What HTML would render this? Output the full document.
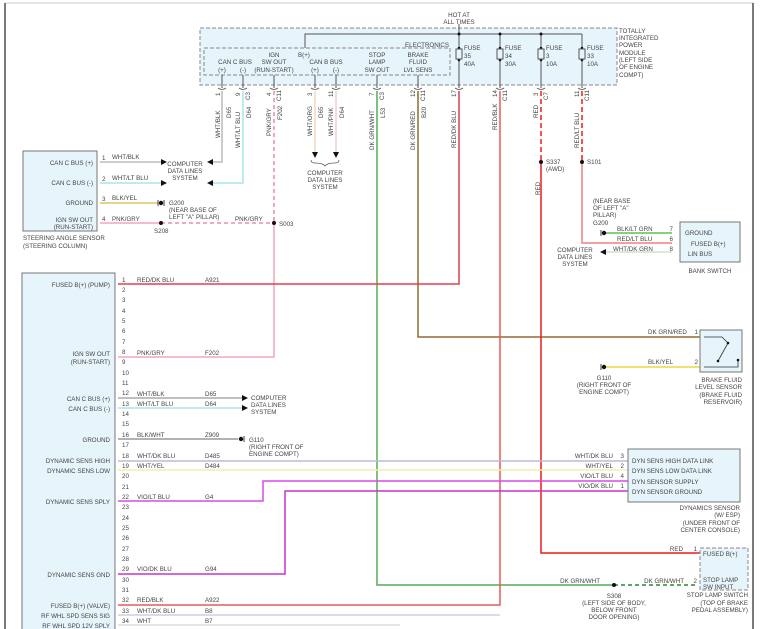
<!DOCTYPE html>
<html><head><meta charset="utf-8"><style>
html,body{margin:0;padding:0;background:#fff;}
svg{display:block;font-family:"Liberation Sans",sans-serif;}
text{font-size:6.2px;fill:#444;}
</style></head><body>
<svg width="764" height="629" viewBox="0 0 764 629" xmlns="http://www.w3.org/2000/svg">
<rect x="0" y="0" width="764" height="629" fill="#fff"/>
<line x1="5" y1="3" x2="753" y2="3" stroke="#ccc" stroke-width="1"/>
<line x1="5" y1="3" x2="5" y2="629" stroke="#222" stroke-width="1.2"/>
<line x1="753" y1="3" x2="753" y2="629" stroke="#222" stroke-width="1.2"/>

<rect x="200" y="28" width="417" height="57" fill="#e6f4fb" stroke="#888" stroke-dasharray="4,2"/>
<rect x="204" y="48" width="246" height="27" fill="none" stroke="#888" stroke-dasharray="4,2"/>
<text x="459" y="17" text-anchor="middle">HOT AT</text>
<text x="459" y="24" text-anchor="middle">ALL TIMES</text>
<g stroke="#555" fill="none" stroke-width="1">
<polyline points="305,48 305,34 582,34"/>
<line x1="459" y1="24" x2="459" y2="88"/>
<line x1="500" y1="34" x2="500" y2="88"/>
<line x1="541" y1="34" x2="541" y2="88"/>
<line x1="582" y1="34" x2="582" y2="88"/>
</g>
<g fill="#111"><circle cx="459" cy="34" r="1.5"/><circle cx="500" cy="34" r="1.5"/><circle cx="541" cy="34" r="1.5"/>
<circle cx="459" cy="48" r="1.3"/><circle cx="459" cy="60" r="1.3"/><circle cx="500" cy="48" r="1.3"/><circle cx="500" cy="60" r="1.3"/><circle cx="541" cy="48" r="1.3"/><circle cx="541" cy="60" r="1.3"/><circle cx="582" cy="48" r="1.3"/><circle cx="582" cy="60" r="1.3"/></g>
<g fill="#e6f4fb" stroke="#555"><rect x="456" y="49" width="6" height="10"/><rect x="497" y="49" width="6" height="10"/><rect x="538" y="49" width="6" height="10"/><rect x="579" y="49" width="6" height="10"/></g>
<text x="464" y="50">FUSE</text><text x="464" y="58">35</text><text x="464" y="66">40A</text>
<text x="505" y="50">FUSE</text><text x="505" y="58">34</text><text x="505" y="66">30A</text>
<text x="546" y="50">FUSE</text><text x="546" y="58">3</text><text x="546" y="66">10A</text>
<text x="587" y="50">FUSE</text><text x="587" y="58">33</text><text x="587" y="66">10A</text>
<text x="619" y="33">TOTALLY</text><text x="619" y="40">INTEGRATED</text><text x="619" y="47">POWER</text><text x="619" y="55">MODULE</text><text x="619" y="62">(LEFT SIDE</text><text x="619" y="69">OF ENGINE</text><text x="619" y="77">COMPT)</text>
<text x="405" y="47">ELECTRONICS</text>
<text x="298" y="57">B(+)</text>
<text x="235" y="64" text-anchor="middle">CAN C BUS</text>
<text x="222" y="72" text-anchor="middle">(+)</text><text x="243" y="72" text-anchor="middle">(-)</text>
<text x="274" y="57" text-anchor="middle">IGN</text><text x="274" y="64" text-anchor="middle">SW OUT</text><text x="274" y="72" text-anchor="middle">(RUN-START)</text>
<text x="326" y="64" text-anchor="middle">CAN B BUS</text>
<text x="315" y="72" text-anchor="middle">(+)</text><text x="336" y="72" text-anchor="middle">(-)</text>
<text x="377" y="57" text-anchor="middle">STOP</text><text x="377" y="64" text-anchor="middle">LAMP</text><text x="377" y="72" text-anchor="middle">SW OUT</text>
<text x="418" y="57" text-anchor="middle">BRAKE</text><text x="418" y="64" text-anchor="middle">FLUID</text><text x="418" y="72" text-anchor="middle">LVL SENS</text>
<g stroke="#555" fill="none"><line x1="222" y1="75" x2="222" y2="88"/><line x1="243" y1="75" x2="243" y2="88"/><line x1="274" y1="75" x2="274" y2="88"/><line x1="315" y1="75" x2="315" y2="88"/><line x1="336" y1="75" x2="336" y2="88"/><line x1="377" y1="75" x2="377" y2="88"/><line x1="418" y1="75" x2="418" y2="88"/></g>
<g fill="none" stroke="#555" stroke-width="0.8">
<path d="M218,88 q4,3 8,0"/><path d="M239,88 q4,3 8,0"/><path d="M270,88 q4,3 8,0"/><path d="M311,88 q4,3 8,0"/><path d="M332,88 q4,3 8,0"/><path d="M373,88 q4,3 8,0"/><path d="M414,88 q4,3 8,0"/><path d="M455,88 q4,3 8,0"/><path d="M496,88 q4,3 8,0"/><path d="M537,88 q4,3 8,0"/><path d="M578,88 q4,3 8,0"/>
</g>
<g font-size="5.5">
<text transform="translate(220,96) rotate(-90)">1</text><text transform="translate(240,96) rotate(-90)">9</text><text transform="translate(250,100) rotate(-90)">C3</text>
<text transform="translate(271,96) rotate(-90)">4</text><text transform="translate(281,101) rotate(-90)">C11</text>
<text transform="translate(312,96) rotate(-90)">3</text><text transform="translate(333,97) rotate(-90)">11</text>
<text transform="translate(374,96) rotate(-90)">7</text><text transform="translate(384,100) rotate(-90)">C3</text>
<text transform="translate(415,97) rotate(-90)">12</text><text transform="translate(425,101) rotate(-90)">C11</text>
<text transform="translate(456,97) rotate(-90)">17</text><text transform="translate(497,97) rotate(-90)">14</text><text transform="translate(507,101) rotate(-90)">C11</text>
<text transform="translate(538,96) rotate(-90)">3</text><text transform="translate(548,100) rotate(-90)">C7</text>
<text transform="translate(579,97) rotate(-90)">11</text><text transform="translate(589,101) rotate(-90)">C11</text>
</g>
<g>
<text transform="translate(220,138) rotate(-90)">WHT/BLK</text><text transform="translate(231,118) rotate(-90)">D65</text>
<text transform="translate(240,148) rotate(-90)">WHT/LT BLU</text><text transform="translate(251,118) rotate(-90)">D64</text>
<text transform="translate(271,136) rotate(-90)">PNK/GRY</text><text transform="translate(282,120) rotate(-90)">F202</text>
<text transform="translate(312,136) rotate(-90)">WHT/ORG</text><text transform="translate(323,118) rotate(-90)">D65</text>
<text transform="translate(333,136) rotate(-90)">WHT/PNK</text><text transform="translate(344,118) rotate(-90)">D64</text>
<text transform="translate(374,150) rotate(-90)">DK GRN/WHT</text><text transform="translate(385,118) rotate(-90)">L53</text>
<text transform="translate(415,150) rotate(-90)">DK GRN/RED</text><text transform="translate(426,118) rotate(-90)">B20</text>
<text transform="translate(456,148) rotate(-90)">RED/DK BLU</text>
<text transform="translate(497,130) rotate(-90)">RED/BLK</text>
<text transform="translate(538,118) rotate(-90)">RED</text>
<text transform="translate(579,148) rotate(-90)">RED/LT BLU</text>
<text transform="translate(540,195) rotate(-90)">RED</text>
</g>

<g fill="none" stroke-width="1.5">
<polyline points="222,91 222,162 209,162" stroke="#bbb"/>
<polyline points="243,91 243,183 209,183" stroke="#a8e4ec"/>
<line x1="274" y1="91" x2="274" y2="223" stroke="#f08aa8" stroke-dasharray="4,3"/>
<polyline points="274,223 274,357 118,357" stroke="#f2a6bc"/>
<line x1="315" y1="91" x2="315" y2="152" stroke="#f0d8c0"/>
<line x1="336" y1="91" x2="336" y2="152" stroke="#f5c8d8"/>
<polyline points="377,91 377,585 614,585" stroke="#5aaa50"/>
<line x1="614" y1="585" x2="697" y2="585" stroke="#2a8a2a" stroke-dasharray="4,3"/>
<polyline points="418,91 418,337 700,337" stroke="#c05030"/>
<polyline points="418,91 418,337 700,337" stroke="#3a9a3a" stroke-width="0.6"/>
<polyline points="459,91 459,284 118,284" stroke="#e04050"/>
<polyline points="500,91 500,605 118,605" stroke="#e85a5a"/>
<line x1="541" y1="91" x2="541" y2="162" stroke="#ee1c1c" stroke-dasharray="5,3"/>
<polyline points="541,162 541,553 700,553" stroke="#ee1c1c"/>
<line x1="582" y1="91" x2="582" y2="162" stroke="#ee1c1c" stroke-dasharray="5,3"/>
<polyline points="582,162 582,243 672,243" stroke="#f08080"/>
<line x1="603" y1="233" x2="672" y2="233" stroke="#66bb55"/>
<line x1="606" y1="252" x2="672" y2="252" stroke="#cfe3c8"/>
<line x1="605" y1="367" x2="700" y2="367" stroke="#e8d84a"/>
<line x1="100" y1="162" x2="162" y2="162" stroke="#bbb"/>
<line x1="100" y1="183" x2="162" y2="183" stroke="#a8e4ec"/>
<line x1="100" y1="203" x2="158" y2="203" stroke="#d8c860"/>
<line x1="100" y1="223" x2="161" y2="223" stroke="#f2a6bc"/>
<line x1="161" y1="223" x2="274" y2="223" stroke="#f08aa8" stroke-dasharray="4,3"/>
<line x1="118" y1="398" x2="242" y2="398" stroke="#aaa"/>
<line x1="118" y1="408" x2="242" y2="408" stroke="#a8e4ec"/>
<line x1="118" y1="439" x2="238" y2="439" stroke="#999"/>
<line x1="118" y1="461" x2="628" y2="461" stroke="#b8bcd8"/>
<line x1="118" y1="470" x2="628" y2="470" stroke="#f2eeb0"/>
<polyline points="118,501 263,501 263,481 628,481" stroke="#d848e8"/>
<polyline points="118,574 285,574 285,491 628,491" stroke="#c830d0"/>
<line x1="118" y1="615" x2="500" y2="615" stroke="#c8d0e0"/>
<line x1="118" y1="625" x2="400" y2="625" stroke="#ddd"/>
</g>
<g fill="#111">
<circle cx="274" cy="223" r="2"/><circle cx="161" cy="223" r="2"/><circle cx="541" cy="162" r="2"/><circle cx="582" cy="162" r="2"/><circle cx="614" cy="585" r="2"/>
</g>
<text x="279" y="226">S003</text><text x="154" y="233">S208</text>
<text x="546" y="164">S337</text><text x="546" y="171">(AWD)</text><text x="587" y="164">S101</text>
<text x="614" y="598" text-anchor="middle">S308</text><text x="614" y="605" text-anchor="middle">(LEFT SIDE OF BODY,</text><text x="614" y="612" text-anchor="middle">BELOW FRONT</text><text x="614" y="619" text-anchor="middle">DOOR OPENING)</text>
<g fill="#111">
<polygon points="161,159 167,162 161,165"/><polygon points="161,180 167,183 161,186"/>
<polygon points="213,159 207,162 213,165"/><polygon points="213,180 207,183 213,186"/>
<polygon points="312,152 318,152 315,158"/><polygon points="333,152 339,152 336,158"/>
<polygon points="242,395 248,398 242,401"/><polygon points="242,405 248,408 242,411"/>
<polygon points="606,249 600,252 606,255"/>
</g>
<path d="M311,160 q0,3 4,3 q8,0 10,3 q2,-3 10,-3 q4,0 4,-3" fill="none" stroke="#555" stroke-width="0.7"/>
<text x="325" y="175" text-anchor="middle">COMPUTER</text><text x="325" y="182" text-anchor="middle">DATA LINES</text><text x="325" y="189" text-anchor="middle">SYSTEM</text>
<text x="185" y="166" text-anchor="middle">COMPUTER</text><text x="185" y="173" text-anchor="middle">DATA LINES</text><text x="185" y="180" text-anchor="middle">SYSTEM</text>
<text x="251" y="400">COMPUTER</text><text x="251" y="407">DATA LINES</text><text x="251" y="414">SYSTEM</text>
<text x="575" y="252" text-anchor="middle">COMPUTER</text><text x="575" y="259" text-anchor="middle">DATA LINES</text><text x="575" y="266" text-anchor="middle">SYSTEM</text>
<g fill="#111" stroke="#111" stroke-width="0.8">
<circle cx="161" cy="203" r="1.8"/><line x1="158" y1="200" x2="158" y2="206"/><line x1="164" y1="200" x2="164" y2="206"/>
<circle cx="241" cy="439" r="1.8"/><line x1="244" y1="436" x2="244" y2="442"/>
<circle cx="604" cy="233" r="1.8"/><line x1="601" y1="230" x2="601" y2="236"/>
<circle cx="604" cy="367" r="1.8"/><line x1="601" y1="364" x2="601" y2="370"/>
</g>
<text x="169" y="205">G200</text><text x="169" y="212">(NEAR BASE OF</text><text x="169" y="219">LEFT "A" PILLAR)</text>
<text x="249" y="442">G110</text><text x="249" y="449">(RIGHT FRONT OF</text><text x="249" y="456">ENGINE COMPT)</text>
<text x="593" y="203">(NEAR BASE</text><text x="593" y="210">OF LEFT "A"</text><text x="593" y="217">PILLAR)</text><text x="593" y="225">G200</text>
<text x="604" y="380" text-anchor="middle">G110</text><text x="604" y="387" text-anchor="middle">(RIGHT FRONT OF</text><text x="604" y="394" text-anchor="middle">ENGINE COMPT)</text>

<rect x="23" y="151" width="74" height="80" fill="#e6f4fb" stroke="#777"/>
<text x="93" y="165" text-anchor="end">CAN C BUS (+)</text><text x="93" y="185" text-anchor="end">CAN C BUS (-)</text><text x="93" y="205" text-anchor="end">GROUND</text><text x="93" y="222" text-anchor="end">IGN SW OUT</text><text x="93" y="229" text-anchor="end">(RUN-START)</text>
<text x="23" y="240">STEERING ANGLE SENSOR</text><text x="23" y="248">(STEERING COLUMN)</text>
<text x="102" y="160">1</text><text x="102" y="181">2</text><text x="102" y="201">3</text><text x="102" y="221">4</text>
<text x="112" y="159">WHT/BLK</text><text x="112" y="180">WHT/LT BLU</text><text x="112" y="200">BLK/YEL</text><text x="112" y="221">PNK/GRY</text><text x="235" y="221">PNK/GRY</text>

<rect x="22" y="273" width="93" height="360" fill="#e6f4fb" stroke="#777"/>
<g text-anchor="end">
<text x="110" y="287">FUSED B(+) (PUMP)</text>
<text x="110" y="356">IGN SW OUT</text><text x="110" y="364">(RUN-START)</text>
<text x="110" y="401">CAN C BUS (+)</text><text x="110" y="411">CAN C BUS (-)</text>
<text x="110" y="442">GROUND</text>
<text x="110" y="463">DYNAMIC SENS HIGH</text><text x="110" y="473">DYNAMIC SENS LOW</text>
<text x="110" y="504">DYNAMIC SENS SPLY</text>
<text x="110" y="577">DYNAMIC SENS GND</text>
<text x="110" y="608">FUSED B(+) (VALVE)</text><text x="110" y="618">RF WHL SPD SENS SIG</text><text x="110" y="628">RF WHL SPD 12V SPLY</text>
</g>
<g font-size="5.8">
<text x="122" y="282">1</text><text x="122" y="292">2</text><text x="122" y="302">3</text><text x="122" y="313">4</text><text x="122" y="323">5</text><text x="122" y="333">6</text><text x="122" y="344">7</text><text x="122" y="354">8</text><text x="122" y="364">9</text><text x="122" y="375">10</text><text x="122" y="385">11</text><text x="122" y="395">12</text><text x="122" y="406">13</text><text x="122" y="416">14</text><text x="122" y="426">15</text><text x="122" y="437">16</text><text x="122" y="447">17</text><text x="122" y="458">18</text><text x="122" y="468">19</text><text x="122" y="478">20</text><text x="122" y="489">21</text><text x="122" y="499">22</text><text x="122" y="509">23</text><text x="122" y="520">24</text><text x="122" y="530">25</text><text x="122" y="540">26</text><text x="122" y="551">27</text><text x="122" y="561">28</text><text x="122" y="571">29</text><text x="122" y="582">30</text><text x="122" y="592">31</text><text x="122" y="602">32</text><text x="122" y="613">33</text><text x="122" y="623">34</text>
</g>
<g>
<text x="137" y="282">RED/DK BLU</text><text x="205" y="282">A921</text>
<text x="137" y="355">PNK/GRY</text><text x="205" y="355">F202</text>
<text x="137" y="396">WHT/BLK</text><text x="205" y="396">D65</text>
<text x="137" y="406">WHT/LT BLU</text><text x="205" y="406">D64</text>
<text x="137" y="437">BLK/WHT</text><text x="205" y="437">Z909</text>
<text x="137" y="458">WHT/DK BLU</text><text x="205" y="458">D485</text>
<text x="137" y="468">WHT/YEL</text><text x="205" y="468">D484</text>
<text x="137" y="499">VIO/LT BLU</text><text x="205" y="499">G4</text>
<text x="137" y="571">VIO/DK BLU</text><text x="205" y="571">G94</text>
<text x="137" y="602">RED/BLK</text><text x="205" y="602">A922</text>
<text x="137" y="613">WHT/DK BLU</text><text x="205" y="613">B8</text>
<text x="137" y="623">WHT</text><text x="205" y="623">B7</text>
</g>

<rect x="680" y="222" width="60" height="40" fill="#e6f4fb" stroke="#777"/>
<text x="685" y="235">GROUND</text><text x="691" y="246">FUSED B(+)</text><text x="688" y="256">LIN BUS</text>
<text x="710" y="273" text-anchor="middle">BANK SWITCH</text>
<text x="673" y="231" text-anchor="end">7</text><text x="673" y="241" text-anchor="end">6</text><text x="673" y="251" text-anchor="end">8</text>
<text x="617" y="231">BLK/LT GRN</text><text x="617" y="241">RED/LT BLU</text><text x="613" y="251">WHT/DK GRN</text>

<rect x="700" y="330" width="42" height="42" fill="#e6f4fb" stroke="#777"/>
<g stroke="#333" fill="none" stroke-width="0.8"><polyline points="704,337 722,337 728,343"/><line x1="728" y1="343" x2="718" y2="361"/><polyline points="704,367 738,367 738,360"/></g>
<g fill="#111"><circle cx="728" cy="343" r="1.3"/><circle cx="718" cy="361" r="1.3"/><circle cx="738" cy="360" r="1.3"/></g>
<text x="698" y="334" text-anchor="end">1</text><text x="698" y="364" text-anchor="end">2</text>
<text x="648" y="334">DK GRN/RED</text><text x="648" y="364">BLK/YEL</text>
<text x="742" y="382" text-anchor="end">BRAKE FLUID</text><text x="742" y="389" text-anchor="end">LEVEL SENSOR</text><text x="742" y="397" text-anchor="end">(BRAKE FLUID</text><text x="742" y="404" text-anchor="end">RESERVOIR)</text>

<rect x="628" y="449" width="112" height="53" fill="#e6f4fb" stroke="#777"/>
<text x="632" y="463">DYN SENS HIGH DATA LINK</text><text x="632" y="473">DYN SENS LOW DATA LINK</text><text x="632" y="484">DYN SENSOR SUPPLY</text><text x="632" y="494">DYN SENSOR GROUND</text>
<text x="624" y="458" text-anchor="end">3</text><text x="624" y="468" text-anchor="end">2</text><text x="624" y="478" text-anchor="end">4</text><text x="624" y="488" text-anchor="end">1</text>
<text x="613" y="458" text-anchor="end">WHT/DK BLU</text><text x="613" y="468" text-anchor="end">WHT/YEL</text><text x="613" y="478" text-anchor="end">VIO/LT BLU</text><text x="613" y="488" text-anchor="end">VIO/DK BLU</text>
<text x="740" y="510" text-anchor="end">DYNAMICS SENSOR</text><text x="740" y="517" text-anchor="end">(W/ ESP)</text><text x="740" y="525" text-anchor="end">(UNDER FRONT OF</text><text x="740" y="532" text-anchor="end">CENTER CONSOLE)</text>

<rect x="700" y="548" width="48" height="42" fill="#e6f4fb" stroke="#888" stroke-dasharray="4,2"/>
<text x="703" y="556">FUSED B(+)</text><text x="703" y="582">STOP LAMP</text><text x="703" y="589">SW INPUT</text>
<text x="697" y="551" text-anchor="end">1</text><text x="697" y="583" text-anchor="end">2</text>
<text x="683" y="551" text-anchor="end">RED</text><text x="684" y="583" text-anchor="end">DK GRN/WHT</text><text x="600" y="583" text-anchor="end">DK GRN/WHT</text>
<text x="748" y="597" text-anchor="end">STOP LAMP SWITCH</text><text x="748" y="605" text-anchor="end">(TOP OF BRAKE</text><text x="748" y="612" text-anchor="end">PEDAL ASSEMBLY)</text>
</svg>
</body></html>
